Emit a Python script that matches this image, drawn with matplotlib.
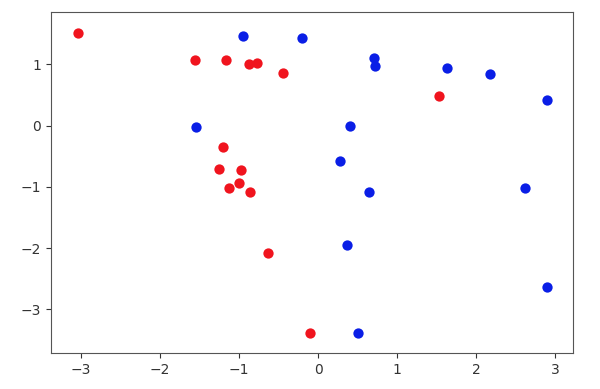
import matplotlib
matplotlib.use("Agg")
import matplotlib.pyplot as plt

red_x = [-3.04, -1.56, -1.17, -0.88, -0.77, -0.44, -1.21, -1.25, -0.97, -1.00, -1.13, -0.86, -0.64, -0.10, 1.53]
red_y = [1.51, 1.08, 1.08, 1.00, 1.03, 0.86, -0.34, -0.70, -0.73, -0.93, -1.01, -1.08, -2.08, -3.38, 0.49]

blue_x = [-0.95, -0.21, 0.705, 0.725, 1.63, 2.18, 2.90, -1.54, 0.405, 0.27, 0.64, 2.62, 0.37, 2.90, 0.51]
blue_y = [1.46, 1.43, 1.11, 0.97, 0.95, 0.85, 0.42, -0.02, -0.01, -0.58, -1.08, -1.01, -1.95, -2.64, -3.38]

xticks = [-3, -2, -1, 0, 1, 2, 3]
yticks = [-3, -2, -1, 0, 1]

fig = plt.figure(figsize=(6.0, 3.89), dpi=100)
ax = fig.add_axes([0.085, 0.093, 0.8695, 0.875])
ax.scatter(red_x, red_y, s=55, color='#f0141e', linewidths=0)
ax.scatter(blue_x, blue_y, s=55, color='#0a1ee6', linewidths=0)
ax.set_xlim(-3.38, 3.22)
ax.set_ylim(-3.71, 1.85)
ax.set_xticks(xticks)
ax.set_yticks(yticks)
ax.tick_params(labelsize=10, colors='#333333')
for sp in ax.spines.values():
    sp.set_color('#555555')
fig.savefig("out.png", dpi=100)
